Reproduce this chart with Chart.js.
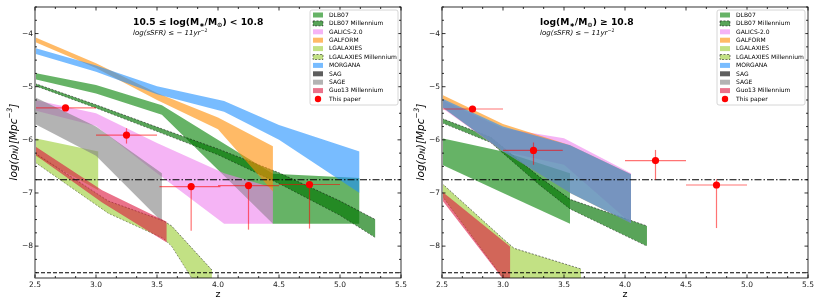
<!DOCTYPE html>
<html>
<head>
<meta charset="utf-8">
<script src="https://cdn.jsdelivr.net/npm/chart.js@4.4.1/dist/chart.umd.min.js"></script>
<style>
  html, body { margin: 0; padding: 0; background: #fff; }
  #wrap { position: relative; width: 822px; height: 308px; }
  .panel { position: absolute; top: 0; width: 411px; height: 308px; }
</style>
</head>
<body>
<div id="wrap">
  <div class="panel" style="left:0"><canvas id="chartLeft"></canvas></div>
  <div class="panel" style="left:411px"><canvas id="chartRight"></canvas></div>
</div>
<script>
// ejes y lineas de referencia
const xTicks = [2.5, 3.0, 3.5, 4.0, 4.5, 5.0, 5.5];
const yTicks = [-8, -7, -6, -5, -4];
const refDashDot = -6.75;
const refDashed = -8.5;

const models = ['DLB07', 'DLB07 Millennium', 'GALICS-2.0', 'GALFORM', 'LGALAXIES',
  'LGALAXIES Millennium', 'MORGANA', 'SAG', 'SAGE', 'Guo13 Millennium'];

const modelColors = {
  'DLB07': 'rgba(0,128,0,0.6)',
  'DLB07 Millennium': 'rgba(0,115,0,0.65)',
  'GALICS-2.0': 'rgba(238,130,238,0.6)',
  'GALFORM': 'rgba(255,140,0,0.6)',
  'LGALAXIES': 'rgba(154,205,50,0.6)',
  'LGALAXIES Millennium': 'rgba(154,205,50,0.6)',
  'MORGANA': 'rgba(30,144,255,0.6)',
  'SAG': 'rgba(40,40,40,0.75)',
  'SAGE': 'rgba(128,128,128,0.6)',
  'Guo13 Millennium': 'rgba(220,20,60,0.6)'
};
const dashedModels = ['DLB07 Millennium', 'LGALAXIES Millennium'];

// ---- panel izquierdo: 10.5 <= log M < 10.8 ----
const zDLB07L = [2.5, 3.0, 3.54, 4.45, 5.16];
const hiDLB07L = [-4.74, -4.97, -5.35, -6.64, -6.72];
const loDLB07L = [-4.86, -5.13, -5.53, -7.58, -7.58];

const zDLB07mL = [2.5, 3.0, 3.5, 4.0, 4.5, 5.0, 5.29];
const hiDLB07mL = [-4.94, -5.34, -5.76, -6.17, -6.62, -7.15, -7.5];
const loDLB07mL = [-4.98, -5.40, -5.84, -6.28, -6.82, -7.42, -7.84];

const zGALICSL = [2.5, 3.0, 3.5, 4.05, 4.45];
const hiGALICSL = [-5.25, -5.5, -6.06, -6.63, -6.9];
const loGALICSL = [-5.45, -5.74, -6.63, -7.58, -7.58];

const zGALFORML = [2.5, 3.0, 3.5, 4.0, 4.45];
const hiGALFORML = [-4.07, -4.56, -5.12, -5.58, -6.12];
const loGALFORML = [-4.16, -4.65, -5.25, -5.8, -6.97];

const zLGALL = [2.5, 3.02];
const hiLGALL = [-5.97, -6.22];
const loLGALL = [-6.3, -6.95];

const zLGALmL = [2.5, 3.1, 3.55, 3.62, 3.95];
const hiLGALmL = [-6.25, -7.15, -7.52, -7.62, -8.45];
const loLGALmL = [-6.42, -7.38, -7.85, -8.0, -9.2];

const zMORGANAL = [2.5, 3.0, 3.5, 4.05, 4.5, 5.16];
const hiMORGANAL = [-4.27, -4.6, -4.99, -5.27, -5.72, -6.22];
const loMORGANAL = [-4.38, -4.72, -5.14, -5.47, -6.0, -7.0];

const zSAGEL = [2.5, 3.0, 3.54];
const hiSAGEL = [-5.2, -5.75, -6.63];
const loSAGEL = [-5.7, -6.3, -7.54];

const zGuoL = [2.5, 3.05, 3.58];
const hiGuoL = [-6.12, -6.95, -7.54];
const loGuoL = [-6.28, -7.18, -7.93];

const ptZL = [2.75, 3.25, 3.78, 4.25, 4.75];
const ptVL = [-5.4, -5.91, -6.88, -6.86, -6.84];
const ptZloL = [2.5, 3.0, 3.52, 4.0, 4.5];
const ptZhiL = [3.0, 3.5, 4.02, 4.5, 5.0];
const ptVloL = [-5.45, -6.07, -7.71, -7.69, -7.67];
const ptVhiL = [-5.35, -5.78, -6.82, -6.8, -6.78];

// ---- panel derecho: log M >= 10.8 ----
const zDLB07R = [2.5, 3.0, 3.55];
const hiDLB07R = [-5.97, -6.22, -6.63];
const loDLB07R = [-6.47, -7.0, -7.58];

const zDLB07mR = [2.5, 2.9, 3.3, 3.55, 4.18];
const hiDLB07mR = [-5.6, -5.95, -6.7, -7.12, -7.62];
const loDLB07mR = [-5.68, -6.05, -6.85, -7.3, -8.0];

const zGALICSR = [2.5, 3.0, 3.5, 4.05];
const hiGALICSR = [-5.25, -5.78, -5.97, -6.63];
const loGALICSR = [-5.4, -6.22, -6.47, -7.57];

const zGALFORMR = [2.5, 3.0, 3.55, 4.05];
const hiGALFORMR = [-5.15, -5.7, -6.1, -6.65];
const loGALFORMR = [-5.38, -6.22, -7.0, -7.57];

const zLGALmR = [2.5, 3.0, 3.09, 3.64];
const hiLGALmR = [-6.82, -7.86, -8.04, -8.43];
const loLGALmR = [-7.05, -8.6, -8.9, -9.6];

const zMORGANAR = [2.5, 3.0, 3.55, 4.05];
const hiMORGANAR = [-5.22, -5.75, -6.1, -6.65];
const loMORGANAR = [-5.38, -6.22, -7.0, -7.57];

const zGuoR = [2.5, 3.06];
const hiGuoR = [-6.97, -8.01];
const loGuoR = [-7.13, -8.8];

const ptZR = [2.75, 3.25, 4.25, 4.75];
const ptVR = [-5.42, -6.2, -6.39, -6.85];
const ptZloR = [2.5, 3.0, 4.0, 4.5];
const ptZhiR = [3.0, 3.49, 4.5, 5.0];
const ptVloR = [-5.48, -6.47, -6.75, -7.66];
const ptVhiR = [-5.36, -6.05, -6.19, -6.74];

const FONT = '"DejaVu Sans", sans-serif';

function band(name, z, hi, lo) {
    const dashed = dashedModels.includes(name);
    const edge = dashed
        ? { borderColor: 'rgba(0,0,0,0.7)', borderWidth: 0.7, borderDash: [2, 1.5] }
        : { borderColor: 'rgba(0,0,0,0)', borderWidth: 0 };
    return [
        { label: name, data: z.map((x, i) => ({ x, y: hi[i] })), fill: '+1',
          backgroundColor: modelColors[name], pointRadius: 0, ...edge },
        { label: '', data: z.map((x, i) => ({ x, y: lo[i] })), fill: false, pointRadius: 0, ...edge }
    ];
}

function refLine(v, dash) {
    return { label: '', data: [{ x: 2.5, y: v }, { x: 5.5, y: v }], fill: false,
             borderColor: '#000', borderWidth: 1.1, borderDash: dash, pointRadius: 0 };
}

function pointsSet(z, v, zLo, zHi, vLo, vHi) {
    return { label: 'This paper', data: z.map((x, i) => ({ x, y: v[i] })), showLine: false,
             pointRadius: 3.6, pointBackgroundColor: '#ff0000', pointBorderWidth: 0,
             zLo, zHi, vLo, vHi };
}

// texto con sub/superindices
function richWidth(ctx, parts, size, font) {
    let w = 0;
    parts.forEach(p => {
        ctx.font = font.replace('SZ', (p.s ? size * 0.7 : size) + 'px');
        w += ctx.measureText(p.t).width;
    });
    return w;
}
function drawRich(ctx, x, y, parts, size, font) {
    parts.forEach(p => {
        const sz = p.s ? size * 0.7 : size;
        ctx.font = font.replace('SZ', sz + 'px');
        const dy = p.s === 'sub' ? size * 0.22 : p.s === 'sup' ? -size * 0.38 : 0;
        ctx.fillText(p.t, x, y + dy);
        x += ctx.measureText(p.t).width;
    });
}

function deco(panel) {
    return {
        id: 'deco',
        beforeDatasetDraw(chart, args) {
            if (args.index !== 0) return;
            const ds = chart.data.datasets[0];
            const { ctx, scales: { x, y } } = chart;
            ctx.save();
            ctx.strokeStyle = 'rgba(255,0,0,0.55)';
            ctx.lineWidth = 1.2;
            ds.data.forEach((p, i) => {
                const px = x.getPixelForValue(p.x), py = y.getPixelForValue(p.y);
                ctx.beginPath();
                ctx.moveTo(x.getPixelForValue(ds.zLo[i]), py);
                ctx.lineTo(x.getPixelForValue(ds.zHi[i]), py);
                ctx.stroke();
                ctx.beginPath();
                ctx.moveTo(px, y.getPixelForValue(ds.vLo[i]));
                ctx.lineTo(px, y.getPixelForValue(ds.vHi[i]));
                ctx.stroke();
            });
            ctx.restore();
        },
        afterDraw(chart) {
            const { ctx, chartArea: a, scales: { x, y } } = chart;
            ctx.save();
            // marco
            ctx.strokeStyle = '#000';
            ctx.lineWidth = 0.8;
            ctx.strokeRect(a.left, a.top, a.right - a.left, a.bottom - a.top);
            ctx.strokeStyle = '#9a9a9a';
            ctx.lineWidth = 2;
            ctx.beginPath(); ctx.moveTo(a.left, a.top); ctx.lineTo(a.left, a.bottom); ctx.stroke();

            // ticks hacia adentro
            ctx.strokeStyle = '#000';
            ctx.lineWidth = 0.8;
            const tick = (x1, y1, x2, y2) => { ctx.beginPath(); ctx.moveTo(x1, y1); ctx.lineTo(x2, y2); ctx.stroke(); };
            for (let k = 0; k <= 18; k++) {
                const v = 2.5 + k * 0.5 / 3;
                const px = x.getPixelForValue(v);
                const len = k % 3 === 0 ? 3.5 : 2;
                tick(px, a.bottom, px, a.bottom - len);
                tick(px, a.top, px, a.top + len);
            }
            for (let k = 0; k <= 20; k++) {
                const v = -8.5 + k * 0.25;
                const py = y.getPixelForValue(v);
                const len = Number.isInteger(v) ? 3.5 : 2;
                tick(a.left, py, a.left + len, py);
                tick(a.right, py, a.right - len, py);
            }

            // titulos
            ctx.fillStyle = '#000';
            ctx.textBaseline = 'alphabetic';
            ctx.textAlign = 'left';
            drawRich(ctx, a.left + 98, 24.5, panel.title, 9.2, 'bold SZ ' + FONT);
            drawRich(ctx, a.left + 98, 34.5,
                [{ t: 'log(sSFR) ≤ − 11yr' }, { t: '−1', s: 'sup' }], 7, 'italic SZ ' + FONT);

            // eje x
            ctx.font = '9.5px ' + FONT;
            ctx.textAlign = 'center';
            ctx.textBaseline = 'middle';
            ctx.fillText('z', (a.left + a.right) / 2, 295);

            // eje y
            const yParts = [{ t: 'log(ρ' }, { t: 'N', s: 'sub' }, { t: ')[Mpc' }, { t: '−3', s: 'sup' }, { t: ']' }];
            ctx.save();
            ctx.translate(a.left - 21, 142);
            ctx.rotate(-Math.PI / 2);
            ctx.textAlign = 'left';
            const w = richWidth(ctx, yParts, 10.5, 'italic SZ ' + FONT);
            drawRich(ctx, -w / 2, 0, yParts, 10.5, 'italic SZ ' + FONT);
            ctx.restore();

            // leyenda
            const lw = 88, lh = 95;
            const x0 = a.right - 3 - lw, y0 = 10;
            ctx.fillStyle = 'rgba(255,255,255,0.85)';
            ctx.strokeStyle = '#cccccc';
            ctx.lineWidth = 0.8;
            ctx.beginPath();
            ctx.roundRect(x0, y0, lw, lh, 2);
            ctx.fill();
            ctx.stroke();
            const rows = models.concat(['This paper']);
            ctx.font = '6px ' + FONT;
            ctx.textAlign = 'left';
            ctx.textBaseline = 'middle';
            rows.forEach((name, i) => {
                const ry = 15 + i * 8.4;
                if (name === 'This paper') {
                    ctx.fillStyle = '#ff0000';
                    ctx.beginPath();
                    ctx.arc(x0 + 8, ry, 3.2, 0, Math.PI * 2);
                    ctx.fill();
                } else {
                    ctx.fillStyle = modelColors[name];
                    ctx.fillRect(x0 + 3, ry - 2.5, 10, 5);
                    if (dashedModels.includes(name)) {
                        ctx.strokeStyle = 'rgba(0,0,0,0.7)';
                        ctx.lineWidth = 0.7;
                        ctx.setLineDash([2, 1.5]);
                        ctx.strokeRect(x0 + 3, ry - 2.5, 10, 5);
                        ctx.setLineDash([]);
                    }
                }
                ctx.fillStyle = '#000';
                ctx.fillText(name, x0 + 19, ry + 0.3);
            });
            ctx.restore();
        }
    };
}

function crearPanel(canvasId, datasets, panel) {
    new Chart(document.getElementById(canvasId), {
        type: 'line',
        data: { datasets },
        options: {
            animation: false,
            responsive: true,
            maintainAspectRatio: false,
            layout: { padding: { top: 7, right: panel.padRight, left: 0, bottom: 0 } },
            elements: { line: { tension: 0 } },
            plugins: { legend: { display: false }, tooltip: { enabled: false } },
            scales: {
                x: {
                    type: 'linear', min: 2.5, max: 5.5,
                    grid: { display: false, drawTicks: false },
                    border: { display: false },
                    ticks: { font: { family: FONT, size: 7.5 }, color: '#222', padding: 3,
                             autoSkip: false, maxRotation: 0, callback: v => v.toFixed(1) },
                    afterBuildTicks: s => { s.ticks = xTicks.map(v => ({ value: v })); },
                    afterFit: s => { s.height = 30; }
                },
                y: {
                    type: 'linear', min: -8.6, max: -3.5,
                    grid: { display: false, drawTicks: false },
                    border: { display: false },
                    ticks: { font: { family: FONT, size: 7.5 }, color: '#222', padding: 2,
                             autoSkip: false, callback: v => (v < 0 ? '−' + Math.abs(v) : '' + v) },
                    afterBuildTicks: s => { s.ticks = yTicks.map(v => ({ value: v })); },
                    afterFit: s => { s.width = panel.yWidth; }
                }
            }
        },
        plugins: [deco(panel)]
    });
}

// orden: indice 0 arriba
const datasetsL = [
    pointsSet(ptZL, ptVL, ptZloL, ptZhiL, ptVloL, ptVhiL),
    refLine(refDashDot, [7, 2, 1.5, 2]),
    refLine(refDashed, [4, 2]),
    ...band('Guo13 Millennium', zGuoL, hiGuoL, loGuoL),
    ...band('SAGE', zSAGEL, hiSAGEL, loSAGEL),
    ...band('MORGANA', zMORGANAL, hiMORGANAL, loMORGANAL),
    ...band('LGALAXIES Millennium', zLGALmL, hiLGALmL, loLGALmL),
    ...band('LGALAXIES', zLGALL, hiLGALL, loLGALL),
    ...band('GALFORM', zGALFORML, hiGALFORML, loGALFORML),
    ...band('GALICS-2.0', zGALICSL, hiGALICSL, loGALICSL),
    ...band('DLB07 Millennium', zDLB07mL, hiDLB07mL, loDLB07mL),
    ...band('DLB07', zDLB07L, hiDLB07L, loDLB07L)
];

const datasetsR = [
    pointsSet(ptZR, ptVR, ptZloR, ptZhiR, ptVloR, ptVhiR),
    refLine(refDashDot, [7, 2, 1.5, 2]),
    refLine(refDashed, [4, 2]),
    ...band('Guo13 Millennium', zGuoR, hiGuoR, loGuoR),
    ...band('MORGANA', zMORGANAR, hiMORGANAR, loMORGANAR),
    ...band('LGALAXIES Millennium', zLGALmR, hiLGALmR, loLGALmR),
    ...band('GALFORM', zGALFORMR, hiGALFORMR, loGALFORMR),
    ...band('GALICS-2.0', zGALICSR, hiGALICSR, loGALICSR),
    ...band('DLB07 Millennium', zDLB07mR, hiDLB07mR, loDLB07mR),
    ...band('DLB07', zDLB07R, hiDLB07R, loDLB07R)
];

crearPanel('chartLeft', datasetsL, {
    yWidth: 35, padRight: 10,
    title: [{ t: '10.5 ≤ log(M' }, { t: '∗', s: 'sub' }, { t: '/M' }, { t: '⊙', s: 'sub' }, { t: ') < 10.8' }]
});
crearPanel('chartRight', datasetsR, {
    yWidth: 31, padRight: 14,
    title: [{ t: 'log(M' }, { t: '∗', s: 'sub' }, { t: '/M' }, { t: '⊙', s: 'sub' }, { t: ') ≥ 10.8' }]
});
</script>
</body>
</html>
